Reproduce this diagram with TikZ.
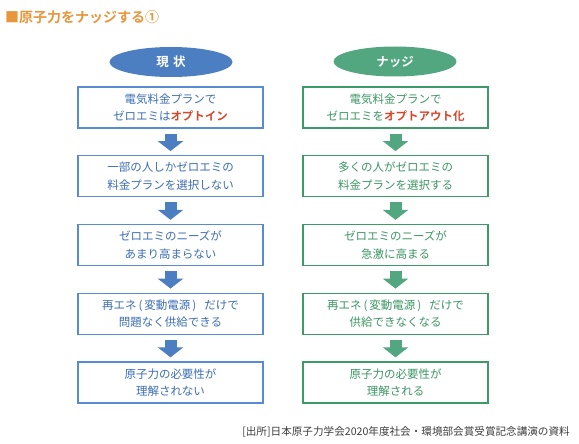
\documentclass[tikz,border=0pt]{standalone}
\usepackage{fontspec}
\setmainfont{Noto Sans CJK JP}
\newfontfamily\jpbold{Noto Sans CJK JP Bold}
\usetikzlibrary{arrows.meta,shapes.geometric}
\definecolor{blueF}{RGB}{76,127,194}
\definecolor{blueB}{RGB}{88,140,210}
\definecolor{blueT}{RGB}{60,110,180}
\definecolor{greenF}{RGB}{82,166,128}
\definecolor{greenB}{RGB}{60,155,105}
\definecolor{greenT}{RGB}{60,150,100}
\definecolor{redT}{RGB}{214,70,42}
\definecolor{orangeT}{RGB}{232,150,60}
\definecolor{capT}{RGB}{60,60,60}
\tikzset{
  x=1pt, y=-1pt,
  boxbase/.style={draw, line width=1.3pt, fill=white, minimum width=185pt, minimum height=41pt,
    align=center, font=\fontsize{11.5}{17.5}\selectfont, inner sep=0pt},
  bbox/.style={boxbase, draw=blueB, text=blueT},
  gbox/.style={boxbase, draw=greenB, text=greenT},
  ovalbase/.style={ellipse, minimum width=123pt, minimum height=30pt, inner sep=0pt,
    text=white, font=\jpbold\fontsize{12.5}{14}\selectfont},
  bov/.style={ovalbase, fill=blueF},
  gov/.style={ovalbase, fill=greenF},
  fatarrow/.style={line width=12pt, -{Triangle[width=25pt,length=10pt]}, shorten <=5pt, shorten >=4pt},
}
\newcommand{\hl}[1]{{\jpbold\color{redT}#1}}
\newcommand{\reene}{再エネ\,(\,変動電源\,)\hspace{8pt}だけで}
\begin{document}
\begin{tikzpicture}
\useasboundingbox (0,0) rectangle (579,444);
\node[anchor=west, text=orangeT, font=\jpbold\fontsize{14}{15}\selectfont, inner sep=0pt] (title) at (5,17) {■原子力をナッジする①};

\node[bov] (lo) at (171,62) {現\,\,状};
\node[gov] (ro) at (395,61.5) {ナッジ};

\node[bbox] (l1) at (170.5,107.5) {電気料金プランで\\ゼロエミは\hl{オプトイン}};
\node[bbox] (l2) at (170.5,176.25) {一部の人しかゼロエミの\\料金プランを選択しない};
\node[bbox] (l3) at (170.5,245) {ゼロエミのニーズが\\あまり高まらない};
\node[bbox] (l4) at (170.5,313.75) {\reene\\問題なく供給できる};
\node[bbox] (l5) at (170.5,382.5) {原子力の必要性が\\理解されない};

\node[gbox] (r1) at (395.5,107.5) {電気料金プランで\\ゼロエミを\hl{オプトアウト化}};
\node[gbox] (r2) at (395.5,176.25) {多くの人がゼロエミの\\料金プランを選択する};
\node[gbox] (r3) at (395.5,245) {ゼロエミのニーズが\\急激に高まる};
\node[gbox] (r4) at (395.5,313.75) {\reene\\供給できなくなる};
\node[gbox] (r5) at (395.5,382.5) {原子力の必要性が\\理解される};

\foreach \a/\b in {l1/l2,l2/l3,l3/l4,l4/l5}
  \draw[fatarrow, draw=blueF, fill=blueF] (\a.south) -- (\b.north);
\foreach \a/\b in {r1/r2,r2/r3,r3/r4,r4/r5}
  \draw[fatarrow, draw=greenF, fill=greenF] (\a.south) -- (\b.north);

\node[anchor=east, text=capT, font=\fontsize{10.6}{12}\selectfont, inner sep=0pt] (cap) at (570,432) {[出所]日本原子力学会2020年度社会・環境部会賞受賞記念講演の資料};
\end{tikzpicture}
\end{document}
